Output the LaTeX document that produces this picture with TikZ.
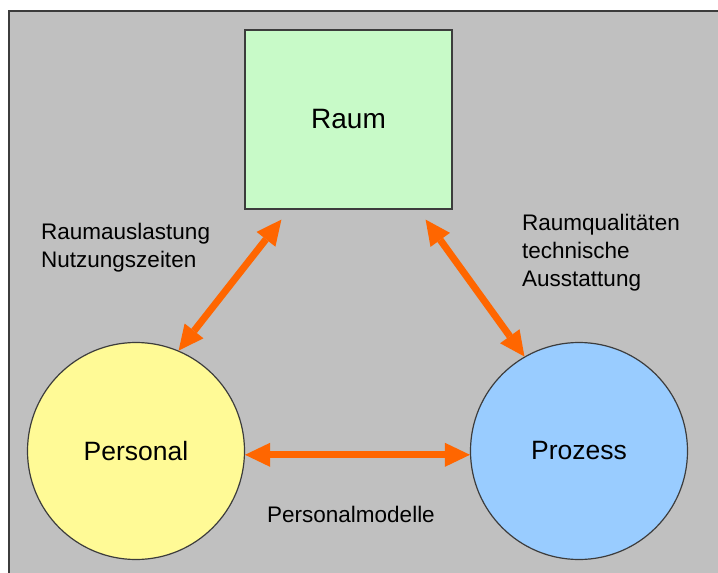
\documentclass[tikz,border=0pt]{standalone}
\usepackage{fontspec}
\setmainfont{Liberation Sans}
\usetikzlibrary{arrows.meta}

\definecolor{panelgray}{RGB}{192,192,192}
\definecolor{edgegray}{RGB}{60,60,60}
\definecolor{raumgreen}{RGB}{200,250,200}
\definecolor{personalyellow}{RGB}{255,250,150}
\definecolor{prozessblue}{RGB}{153,204,255}
\definecolor{linkorange}{RGB}{255,102,0}

\tikzset{
  entity/.style={draw=edgegray, line width=1.2pt, inner sep=0pt, text=black},
  squarebox/.style={entity, rectangle, minimum width=207pt, minimum height=179pt, font=\fontsize{28}{32}\selectfont},
  roundbox/.style={entity, circle, minimum size=217pt, font=\fontsize{26.5}{30}\selectfont},
  relation/.style={draw=linkorange, line width=7pt,
    {Triangle[length=25pt,width=24pt,line width=0pt]}-{Triangle[length=25pt,width=24pt,line width=0pt]}},
  caption/.style={anchor=base west, inner sep=0pt, font=\fontsize{22.5}{28}\selectfont, align=left}
}

\begin{document}
\begin{tikzpicture}[x=1pt, y=-1pt]
  \useasboundingbox (0,0) rectangle (718,573);
  \clip (0,0) rectangle (718,573);

  % backdrop panel, running off the right and bottom edges
  \fill[white] (0,0) rectangle (718,573);
  \draw[fill=panelgray, draw=edgegray, line width=1.5pt] (9,11) rectangle (740,600);

  % the three entities
  \node[squarebox, fill=raumgreen] (raum) at (348.5,119.5) {Raum};
  \node[roundbox, fill=personalyellow] (personal) at (136,451) {Personal};
  \node[roundbox, fill=prozessblue] (prozess) at (579,451) {Prozess};

  % relations between them
  \draw[relation] ([xshift=37pt,yshift=-10pt]raum.south west) -- (personal.67);
  \draw[relation] ([xshift=-27pt,yshift=-10pt]raum.south east) -- (prozess.120);
  \draw[relation] (personal.-2) -- (prozess.182);

  % relation captions
  \node[caption] (capleft) at (41,239) {Raumauslastung};
  \node[caption] (capleft2) at (41,267) {Nutzungszeiten};
  \node[caption] (capright) at (522,230) {Raumqualitäten};
  \node[caption] (capright2) at (522,258) {technische};
  \node[caption] (capright3) at (522,286) {Ausstattung};
  \node[caption] (capbottom) at (267,522) {Personalmodelle};
\end{tikzpicture}
\end{document}
